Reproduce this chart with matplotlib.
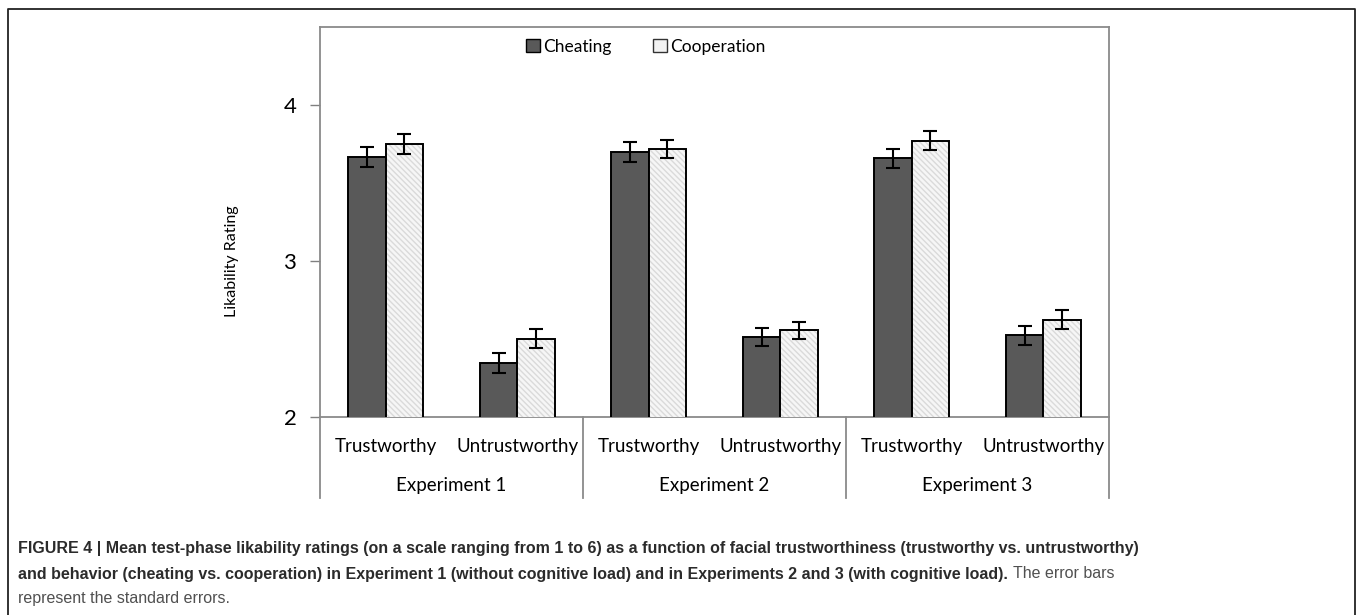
import matplotlib
matplotlib.use("Agg")
import matplotlib.pyplot as plt
import matplotlib.transforms as mtrans
from matplotlib.patches import Patch
from matplotlib.lines import Line2D
import numpy as np

# mean likability ratings and standard errors, two conditions per face type
experiments = ["Experiment 1", "Experiment 2", "Experiment 3"]
face_types = ["Trustworthy", "Untrustworthy"]
cheating = [3.665, 2.347, 3.697, 2.513, 3.658, 2.523]
cheating_se = [0.065, 0.064, 0.065, 0.060, 0.059, 0.063]
cooperation = [3.750, 2.502, 3.720, 2.556, 3.771, 2.624]
cooperation_se = [0.063, 0.061, 0.058, 0.055, 0.060, 0.060]
yticks = [2, 3, 4]

chart_font = ["Lato", "DejaVu Sans"]
cap_font = ["Liberation Sans Narrow", "Liberation Sans", "DejaVu Sans"]

W, H = 1357, 615
fig = plt.figure(figsize=(W / 100, H / 100), dpi=100)

# outer frame of the figure panel
frame_ax = fig.add_axes([0, 0, 1, 1])
frame_ax.set_xlim(0, W)
frame_ax.set_ylim(H, 0)
frame_ax.axis("off")
frame_ax.plot([8, 8, 1355, 1355], [H + 5, 9, 9, H + 5], color="#222222", lw=1.3)

ax = fig.add_axes([320 / W, 1 - 417 / H, 789 / W, 390 / H])
x = np.arange(len(cheating))
bw = 0.285
err_kw = dict(ecolor="black", elinewidth=1.5, capsize=5, capthick=1.5)

ax.bar(x - bw / 2, cheating, bw, color="#595959", edgecolor="black",
       linewidth=1.4, yerr=cheating_se, error_kw=err_kw, zorder=3)
# hatched fill for cooperation, outline drawn separately so hatch stays light
ax.bar(x + bw / 2, cooperation, bw, color="#f6f6f6", edgecolor="#dadada",
       hatch="\\\\\\\\\\\\", linewidth=0, zorder=3)
ax.bar(x + bw / 2, cooperation, bw, fill=False, edgecolor="black",
       linewidth=1.4, yerr=cooperation_se, error_kw=err_kw, zorder=4)

ax.set_xlim(-0.5, len(x) - 0.5)
ax.set_ylim(2, 4.5)
ax.set_yticks(yticks)
ax.set_yticklabels([str(t) for t in yticks], fontsize=16, family=chart_font)
ax.tick_params(axis="y", direction="out", length=7, width=1, color="#808080", pad=10)
ax.set_xticks(x)
ax.set_xticklabels(face_types * len(experiments), fontsize=13.5, family=chart_font)
ax.tick_params(axis="x", length=0, pad=15)
for s in ax.spines.values():
    s.set_color("#8a8a8a")
    s.set_linewidth(1.3)

fig.text(232 / W, 1 - 261 / H, "Likability Rating", rotation=90, ha="center",
         va="center", fontsize=11.5, family=chart_font)

# group labels and separators under the category axis
trans = mtrans.blended_transform_factory(ax.transData, ax.transAxes)
for i, name in enumerate(experiments):
    ax.text(2 * i + 0.5, -0.176, name, transform=trans, ha="center", va="center",
            fontsize=13.5, family=chart_font)
for b in [-0.5, 1.5, 3.5, 5.5]:
    ax.add_line(Line2D([b, b], [0, -0.207], transform=trans, color="#8a8a8a",
                       lw=1.3, clip_on=False))

handles = [Patch(facecolor="#595959", edgecolor="black", label="Cheating"),
           Patch(facecolor="#f2f2f2", edgecolor="#333333", label="Cooperation")]
ax.legend(handles=handles, loc="center", bbox_to_anchor=(0.413, 0.949), ncol=2,
          frameon=False, handlelength=0.8, handleheight=0.8, handletextpad=0.2,
          columnspacing=2.4, prop={"family": chart_font, "size": 12.5})

# caption
cap_size = 11.5
bold_c = "#2b2b2b"
fig.text(18 / W, 1 - 549 / H,
         "FIGURE 4 | Mean test-phase likability ratings (on a scale ranging from 1 to 6) "
         "as a function of facial trustworthiness (trustworthy vs. untrustworthy)",
         fontsize=cap_size, family=cap_font, weight="bold", color=bold_c, va="center")
line2 = fig.text(18 / W, 1 - 574 / H,
                 "and behavior (cheating vs. cooperation) in Experiment 1 (without cognitive load) "
                 "and in Experiments 2 and 3 (with cognitive load).",
                 fontsize=cap_size, family=cap_font, weight="bold", color=bold_c, va="center")
fig.canvas.draw()
bb = line2.get_window_extent()
fig.text((bb.x1 + 5) / W, 1 - 574 / H, "The error bars", fontsize=cap_size,
         family=cap_font, color="#505050", va="center")
fig.text(18 / W, 1 - 598 / H, "represent the standard errors.", fontsize=cap_size,
         family=cap_font, color="#505050", va="center")

fig.savefig("out.png", dpi=100)
